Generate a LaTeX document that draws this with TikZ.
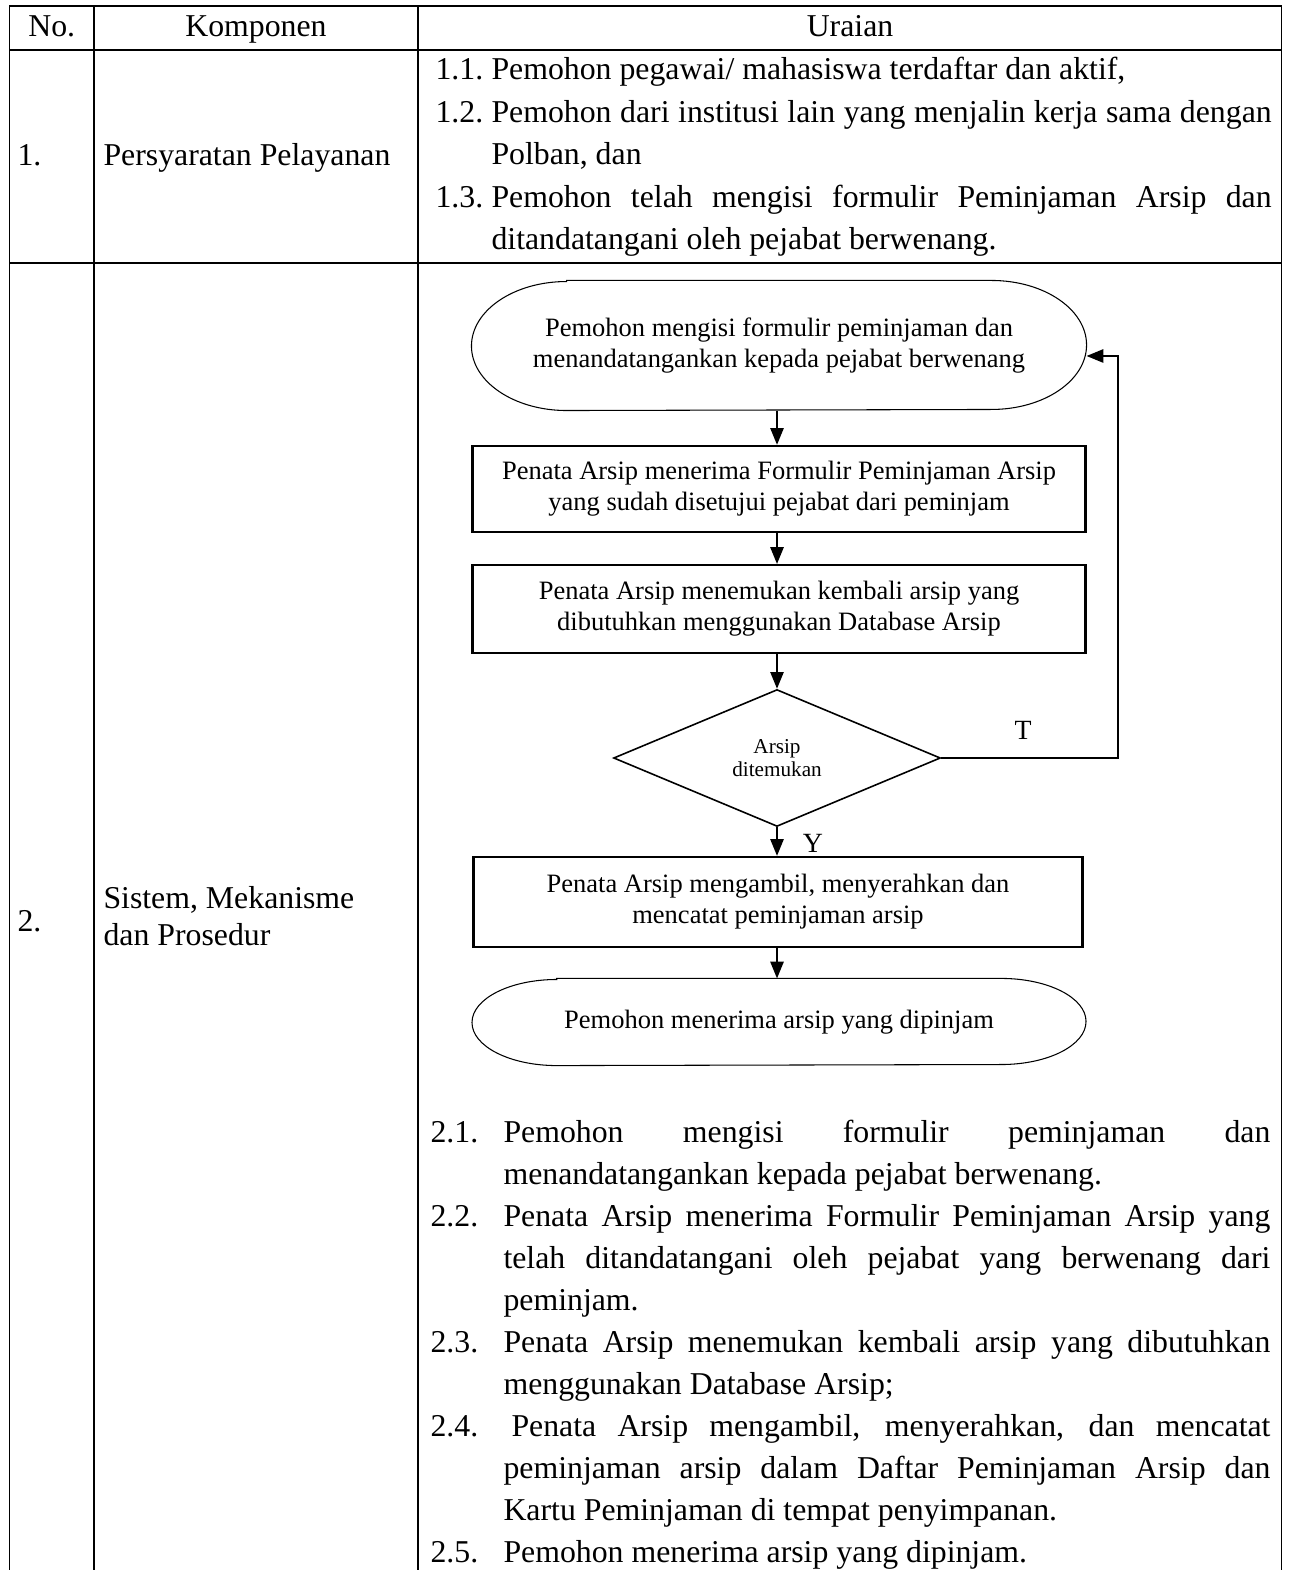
\documentclass[tikz,border=0pt]{standalone}
\usepackage{fontspec}
\setmainfont{Liberation Serif}
\usetikzlibrary{shapes.geometric,arrows.meta}
\begin{document}
\begin{tikzpicture}[x=0.3775pt,y=0.3775pt,
  grid/.style={line width=0.65pt},
  body/.style={font=\fontsize{12}{15}\selectfont, inner sep=0pt},
  lt/.style={body, anchor=base west},
  ct/.style={body, anchor=base},
  flow/.style={font=\fontsize{10}{11.7}\selectfont, align=center, inner sep=0pt},
  procbox/.style={flow, draw, line width=0.85pt, minimum width=231.4pt},
  termbox/.style={flow, minimum width=231.8pt},
  termline/.style={line width=0.4pt},
  decision/.style={diamond, draw, line width=0.6pt, aspect=2.4, inner sep=0pt,
    minimum width=123.4pt, minimum height=51.7pt,
    font=\fontsize{8}{8.9}\selectfont, align=center},
  arr/.style={line width=0.65pt, -{Triangle[length=6.3pt,width=5pt]}},
  flag/.style={font=\fontsize{10.5}{12}\selectfont, inner sep=0pt}
]
\useasboundingbox (0,0) rectangle (1288,-1570);

% table rules
\draw[grid] (9.5,-1575) -- (9.5,-6) -- (1281.5,-6) -- (1281.5,-1575);
\draw[grid] (9.5,-50) -- (1281.5,-50);
\draw[grid] (9.5,-263) -- (1281.5,-263);
\draw[grid] (94,-6) -- (94,-1575);
\draw[grid] (418,-6) -- (418,-1575);

% header
\node[ct] (hno) at (51.75,-37) {No.};
\node[ct] (hkomp) at (256,-37) {Komponen};
\node[ct] (hur) at (850,-37) {Uraian};

% row 1
\node[lt] (n1) at (17,-166) {1.};
\node[lt] (k1) at (103,-166) {Persyaratan Pelayanan};
\node[lt] (a1) at (435,-80) {1.1.};
\node[lt] (a1t) at (491,-80) {Pemohon pegawai/ mahasiswa terdaftar dan aktif,};
\node[lt] (a2) at (435,-122.5) {1.2.};
\node[lt] (a2t) at (491,-122.5) {\makebox[294.5pt][s]{Pemohon dari institusi lain yang menjalin kerja sama dengan}};
\node[lt] (a2u) at (491,-165) {Polban, dan};
\node[lt] (a3) at (435,-207.5) {1.3.};
\node[lt] (a3t) at (491,-207.5) {\makebox[294.5pt][s]{Pemohon telah mengisi formulir Peminjaman Arsip dan}};
\node[lt] (a3u) at (491,-250) {ditandatangani oleh pejabat berwenang.};

% row 2, left cells
\node[lt] (n2) at (17,-931) {2.};
\node[lt] (k2) at (103,-908) {Sistem, Mekanisme};
\node[lt] (k2b) at (103,-945) {dan Prosedur};

% flowchart
\node[termbox, minimum height=48.7pt] (t1) at (779,-345.5)
  {Pemohon mengisi formulir peminjaman dan\\menandatangankan kepada pejabat berwenang};
\node[procbox, minimum height=32.5pt] (b1) at (779,-489)
  {Penata Arsip menerima Formulir Peminjaman Arsip\\yang sudah disetujui pejabat dari peminjam};
\node[procbox, minimum height=33.2pt] (b2) at (779,-609)
  {Penata Arsip menemukan kembali arsip yang\\dibutuhkan menggunakan Database Arsip};
\node[decision] (d) at (777,-758) {Arsip\\ditemukan};
\node[procbox, minimum width=229.9pt, minimum height=34pt] (b3) at (778,-902)
  {Penata Arsip mengambil, menyerahkan dan\\mencatat peminjaman arsip};
\node[termbox, minimum width=231.4pt, minimum height=32.5pt] (t2) at (779,-1022)
  {Pemohon menerima arsip yang dipinjam};

% terminator outlines
\draw[termline] ([xshift=35.9pt]t1.north west) -- ([xshift=-35.9pt]t1.north east)
  arc[start angle=90,end angle=-90,x radius=35.9pt,y radius=24.35pt]
  -- ([xshift=35.9pt]t1.south west)
  arc[start angle=270,end angle=90,x radius=35.9pt,y radius=24.35pt] -- cycle;
\draw[termline] ([xshift=32pt]t2.north west) -- ([xshift=-32pt]t2.north east)
  arc[start angle=90,end angle=-90,x radius=32pt,y radius=16.25pt]
  -- ([xshift=32pt]t2.south west)
  arc[start angle=270,end angle=90,x radius=32pt,y radius=16.25pt] -- cycle;

% connectors
\draw[arr] (t1.south -| d.north) -- (b1.north -| d.north);
\draw[arr] (b1.south -| d.north) -- (b2.north -| d.north);
\draw[arr] (b2.south -| d.north) -- (d.north);
\draw[arr] (d.south) -- (b3.north -| d.south);
\draw[arr] (b3.south -| d.south) -- (t2.north -| d.south);
\coordinate (fb) at (1118,-356);
\draw[arr] (d.east) -| (fb) -- (fb -| t1.east);
\node[flag] (lbT) at (1023,-730) {T};
\node[flag] (lbY) at (813,-843) {Y};

% row 2, description
\node[lt] (p1) at (430,-1142) {2.1.};
\node[lt] (p1a) at (503,-1142) {\makebox[289.5pt][s]{Pemohon mengisi formulir peminjaman dan}};
\node[lt] (p1b) at (503,-1184) {menandatangankan kepada pejabat berwenang.};
\node[lt] (p2) at (430,-1226) {2.2.};
\node[lt] (p2a) at (503,-1226) {\makebox[289.5pt][s]{Penata Arsip menerima Formulir Peminjaman Arsip yang}};
\node[lt] (p2b) at (503,-1268) {\makebox[289.5pt][s]{telah ditandatangani oleh pejabat yang berwenang dari}};
\node[lt] (p2c) at (503,-1310) {peminjam.};
\node[lt] (p3) at (430,-1352) {2.3.};
\node[lt] (p3a) at (503,-1352) {\makebox[289.5pt][s]{Penata Arsip menemukan kembali arsip yang dibutuhkan}};
\node[lt] (p3b) at (503,-1394) {menggunakan Database Arsip;};
\node[lt] (p4) at (430,-1436) {2.4.};
\node[lt] (p4a) at (511,-1436) {\makebox[286.5pt][s]{Penata Arsip mengambil, menyerahkan, dan mencatat}};
\node[lt] (p4b) at (503,-1478) {\makebox[289.5pt][s]{peminjaman arsip dalam Daftar Peminjaman Arsip dan}};
\node[lt] (p4c) at (503,-1520) {Kartu Peminjaman di tempat penyimpanan.};
\node[lt] (p5) at (430,-1562) {2.5.};
\node[lt] (p5a) at (503,-1562) {Pemohon menerima arsip yang dipinjam.};
\end{tikzpicture}
\end{document}
